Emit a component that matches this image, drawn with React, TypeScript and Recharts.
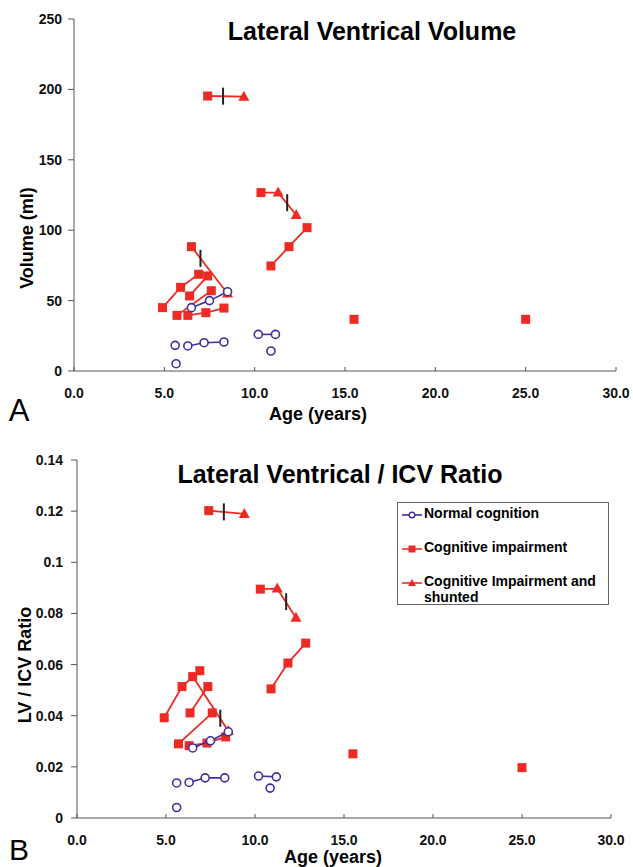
import React from 'react';
import { ScatterChart, Scatter, XAxis, YAxis } from 'recharts';

const RED = '#ee2a24';
const BLUE = '#3d2f9f';
const AXIS = '#555';
const FONT = '"Liberation Sans", Arial, sans-serif';

const ageTicks = [0, 5, 10, 15, 20, 25, 30];
const volumeTicks = [0, 50, 100, 150, 200, 250];
const ratioTicks = [0, 0.02, 0.04, 0.06, 0.08, 0.1, 0.12, 0.14];

// each inner list is one child, [age, value] joined in order
const normalVolume = [
  [[6.5, 45.0], [7.5, 50.0], [8.5, 56.3]],
  [[5.6, 18.2]],
  [[6.3, 17.8], [7.2, 20.1], [8.3, 20.6]],
  [[5.65, 5.2]],
  [[10.2, 26.0], [11.15, 26.0]],
  [[10.9, 14.2]],
];
const impairedVolume = [
  [[4.9, 45.0], [5.9, 59.4], [6.9, 68.7]],
  [[6.4, 53.3], [7.4, 67.5]],
  [[5.7, 39.5], [7.6, 57.0]],
  [[6.3, 39.5], [7.3, 41.4], [8.3, 44.7]],
  [[10.9, 74.6], [11.9, 88.3], [12.9, 101.8]],
  [[15.5, 36.7]],
  [[25.0, 36.7]],
];
// first point before the shunt, the rest after it
const shuntedVolume = [
  [[7.4, 195.3], [9.4, 194.8]],
  [[10.35, 126.7], [11.3, 126.7], [12.3, 110.8]],
  [[6.5, 88.3], [8.5, 55.0]],
];
const shuntTimeVolume = [[8.25, 195.2], [11.8, 119.5], [7.0, 80.0]];

const normalRatio = [
  [[6.5, 0.0274], [7.5, 0.0302], [8.5, 0.0337]],
  [[5.6, 0.0137]],
  [[6.3, 0.0139], [7.2, 0.0157], [8.3, 0.0157]],
  [[5.6, 0.0041]],
  [[10.2, 0.0164], [11.2, 0.0161]],
  [[10.85, 0.0117]],
];
const impairedRatio = [
  [[4.9, 0.0392], [5.9, 0.0514], [6.9, 0.0576]],
  [[6.35, 0.0411], [7.35, 0.0514]],
  [[5.7, 0.029], [7.6, 0.0411]],
  [[6.3, 0.0283], [7.3, 0.0293], [8.35, 0.0317]],
  [[10.9, 0.0505], [11.85, 0.0606], [12.85, 0.0684]],
  [[15.5, 0.0251]],
  [[25.0, 0.0197]],
];
const shuntedRatio = [
  [[7.4, 0.1202], [9.4, 0.1189]],
  [[10.3, 0.0895], [11.25, 0.0897], [12.3, 0.0783]],
  [[6.5, 0.0553], [8.5, 0.034]],
];
const shuntTimeRatio = [[8.25, 0.1197], [11.75, 0.0846], [8.05, 0.039]];

const legendItems = [
  { kind: 'circle', color: BLUE, lines: ['Normal cognition'] },
  { kind: 'square', color: RED, lines: ['Cognitive impairment'] },
  { kind: 'triangle', color: RED, lines: ['Cognitive Impairment and', 'shunted'] },
];

type Kind = 'circle' | 'square' | 'triangle' | 'shunt';

const toPts = (seg: number[][], kind: Kind) => seg.map(([age, val]) => ({ age, val, kind }));
const shuntPts = (seg: number[][]) =>
  seg.map(([age, val], i) => ({ age, val, kind: (i === 0 ? 'square' : 'triangle') as Kind }));

function Marker(props: any) {
  const { cx, cy, payload } = props;
  if (cx == null || cy == null) return null;
  switch (payload.kind) {
    case 'circle':
      return <circle cx={cx} cy={cy} r={4} fill="#fff" stroke={BLUE} strokeWidth={1.6} />;
    case 'square':
      return <rect x={cx - 4.5} y={cy - 4.5} width={9} height={9} fill={RED} />;
    case 'triangle':
      return <polygon points={`${cx},${cy - 6} ${cx + 5.5},${cy + 4} ${cx - 5.5},${cy + 4}`} fill={RED} />;
    default:
      return <line x1={cx} x2={cx} y1={cy - 8.5} y2={cy + 8.5} stroke="#222" strokeWidth={2} />;
  }
}

function XTick(props: any) {
  const { x, y, payload } = props;
  return (
    <g>
      <line x1={x} x2={x} y1={y} y2={y - 4} stroke={AXIS} />
      <text x={x} y={y + 27} textAnchor="middle" fontSize={14} fontWeight="bold" fill="#111" fontFamily={FONT}>
        {Number(payload.value).toFixed(1)}
      </text>
    </g>
  );
}

function Text({ x, y, size, rotate, bold = true, children }: any) {
  return (
    <div
      style={{
        position: 'absolute',
        left: x,
        top: y,
        transform: `translate(-50%, -50%)${rotate ? ' rotate(-90deg)' : ''}`,
        fontFamily: FONT,
        fontSize: size,
        fontWeight: bold ? 'bold' : 'normal',
        lineHeight: 1,
        whiteSpace: 'nowrap',
        color: '#000',
      }}
    >
      {children}
    </div>
  );
}

function Panel(props: any) {
  const { height, margin, yWidth, yDomain, yTicks, yFmt, yTickMargin, normal, impaired, shunted, marks } = props;
  return (
    <ScatterChart width={633} height={height} margin={margin}>
      <XAxis
        type="number"
        dataKey="age"
        domain={[0, 30]}
        ticks={ageTicks}
        interval={0}
        height={30}
        tickSize={0}
        tickMargin={0}
        tickLine={false}
        tick={<XTick />}
        axisLine={{ stroke: AXIS }}
      />
      <YAxis
        type="number"
        dataKey="val"
        domain={yDomain}
        ticks={yTicks}
        interval={0}
        width={yWidth}
        tickSize={6}
        tickMargin={yTickMargin}
        tickFormatter={yFmt}
        tick={{ fontSize: 14, fontWeight: 'bold', fill: '#111', fontFamily: FONT }}
        axisLine={{ stroke: AXIS }}
        tickLine={{ stroke: AXIS }}
      />
      {impaired.map((seg: number[][], i: number) => (
        <Scatter key={'imp' + i} data={toPts(seg, 'square')} line={{ stroke: RED, strokeWidth: 1.8 }} shape={Marker} isAnimationActive={false} />
      ))}
      {shunted.map((seg: number[][], i: number) => (
        <Scatter key={'sh' + i} data={shuntPts(seg)} line={{ stroke: RED, strokeWidth: 1.8 }} shape={Marker} isAnimationActive={false} />
      ))}
      {normal.map((seg: number[][], i: number) => (
        <Scatter key={'nor' + i} data={toPts(seg, 'circle')} line={{ stroke: BLUE, strokeWidth: 1.6 }} shape={Marker} isAnimationActive={false} />
      ))}
      <Scatter data={toPts(marks, 'shunt')} shape={Marker} isAnimationActive={false} />
    </ScatterChart>
  );
}

function LegendIcon({ kind, color }: { kind: string; color: string }) {
  return (
    <svg width={20} height={10} style={{ marginRight: 2, flex: 'none' }}>
      <line x1={0} x2={20} y1={5} y2={5} stroke={color} strokeWidth={1.6} />
      {kind === 'circle' && <circle cx={10} cy={5} r={2.8} fill="#fff" stroke={color} strokeWidth={1.4} />}
      {kind === 'square' && <rect x={6.5} y={1.5} width={7} height={7} fill={color} />}
      {kind === 'triangle' && <polygon points="10,1 14,8 6,8" fill={color} />}
    </svg>
  );
}

export default function App() {
  return (
    <div style={{ position: 'absolute', left: 0, top: 0, width: 633, height: 867, background: '#fff', overflow: 'hidden' }}>
      <div style={{ position: 'absolute', left: 0, top: 0 }}>
        <Panel
          height={430}
          margin={{ top: 19, right: 17, bottom: 29, left: 0 }}
          yWidth={74}
          yDomain={[0, 250]}
          yTicks={volumeTicks}
          yTickMargin={6}
          yFmt={(v: number) => String(v)}
          normal={normalVolume}
          impaired={impairedVolume}
          shunted={shuntedVolume}
          marks={shuntTimeVolume}
        />
      </div>
      <div style={{ position: 'absolute', left: 0, top: 430 }}>
        <Panel
          height={437}
          margin={{ top: 30, right: 22, bottom: 19, left: 0 }}
          yWidth={77}
          yDomain={[0, 0.14]}
          yTicks={ratioTicks}
          yTickMargin={8}
          yFmt={(v: number) => String(Number(v.toFixed(2)))}
          normal={normalRatio}
          impaired={impairedRatio}
          shunted={shuntedRatio}
          marks={shuntTimeRatio}
        />
      </div>

      <Text x={372} y={31} size={25}>Lateral Ventrical Volume</Text>
      <Text x={27} y={238} size={18} rotate>Volume (ml)</Text>
      <Text x={318} y={414} size={18}>Age (years)</Text>
      <Text x={19} y={410} size={31} bold={false}>A</Text>

      <Text x={340} y={474} size={25}>Lateral Ventrical / ICV Ratio</Text>
      <Text x={25} y={665} size={18} rotate>LV / ICV Ratio</Text>
      <Text x={333} y={857} size={18}>Age (years)</Text>
      <Text x={19} y={850} size={30} bold={false}>B</Text>

      <div
        style={{
          position: 'absolute',
          left: 397,
          top: 502,
          width: 210,
          height: 101,
          border: '1px solid #666',
          fontFamily: FONT,
          fontSize: 14,
          fontWeight: 'bold',
          color: '#000',
        }}
      >
        {legendItems.map((it, i) => (
          <div key={i} style={{ position: 'absolute', left: 4, top: 2 + i * 34, display: 'flex', alignItems: 'flex-start' }}>
            <div style={{ marginTop: 2 }}>
              <LegendIcon kind={it.kind} color={it.color} />
            </div>
            <div style={{ lineHeight: '16px' }}>
              {it.lines.map((l, j) => (
                <div key={j}>{l}</div>
              ))}
            </div>
          </div>
        ))}
      </div>
    </div>
  );
}
